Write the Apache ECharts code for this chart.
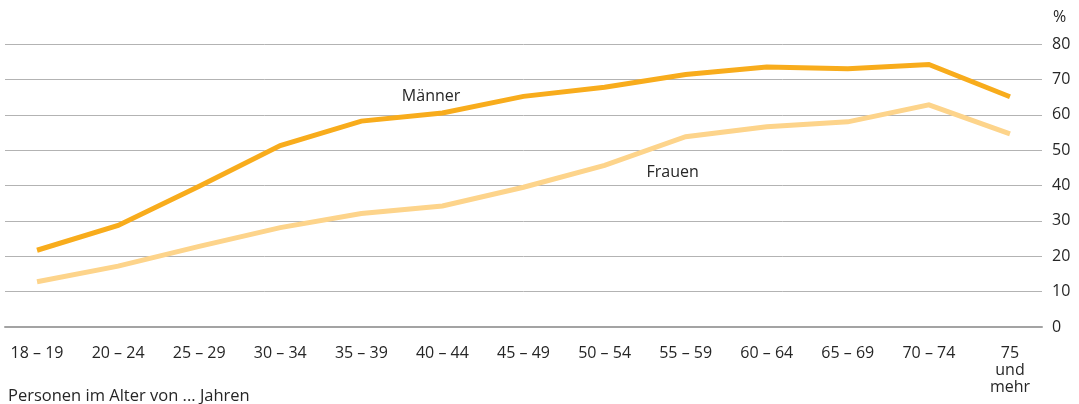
<!DOCTYPE html>
<html>
<head>
<meta charset="utf-8">
<script src="https://cdn.jsdelivr.net/npm/echarts@6/dist/echarts.min.js"></script>
<style>
  html, body { margin: 0; padding: 0; background: #fff; }
  #chart { width: 1079px; height: 404px; }
</style>
</head>
<body>
<div id="chart"></div>
<script>
// Age groups (x axis)
const categories = ['18 – 19', '20 – 24', '25 – 29', '30 – 34', '35 – 39', '40 – 44', '45 – 49',
  '50 – 54', '55 – 59', '60 – 64', '65 – 69', '70 – 74', '75\nund\nmehr'];
// Shares in percent
const maenner = [21.7, 28.7, 39.8, 51.3, 58.2, 60.5, 65.2, 67.8, 71.4, 73.5, 73.0, 74.2, 65.1];
const frauen  = [12.8, 17.2, 22.8, 28.1, 32.1, 34.2, 39.5, 45.7, 53.8, 56.6, 58.0, 62.8, 54.6];
const yTicks = [0, 10, 20, 30, 40, 50, 60, 70, 80];

const FONT = '"Open Sans", "Noto Sans", sans-serif';
const TEXT = '#262626';
const FS = 16;

const toPairs = arr => arr.map((v, i) => [i, v]);
const idx = categories.map((_, i) => i);

const chart = echarts.init(document.getElementById('chart'), null, { renderer: 'canvas' });
chart.setOption({
  animation: false,
  textStyle: { fontFamily: FONT },
  grid: { left: 5, right: 37, top: 44, bottom: 77, containLabel: false },
  xAxis: {
    type: 'value',
    min: -0.395,
    max: 12.395,
    splitLine: { show: false },
    axisTick: { show: false },
    axisLine: { show: true, onZero: false, lineStyle: { color: '#a3a3a3', width: 2 } },
    axisLabel: {
      customValues: idx,
      formatter: v => categories[Math.round(v)] || '',
      color: TEXT,
      fontSize: FS,
      fontFamily: FONT,
      lineHeight: 17,
      margin: 18,
      verticalAlign: 'top'
    }
  },
  yAxis: {
    type: 'value',
    position: 'right',
    min: yTicks[0],
    max: yTicks[yTicks.length - 1],
    interval: 10,
    axisLine: { show: false },
    axisTick: { show: false },
    splitLine: { lineStyle: { color: '#b3b3b3', width: 1 } },
    axisLabel: {
      color: TEXT, fontSize: FS, fontFamily: FONT, margin: 10,
      customValues: yTicks
    }
  },
  graphic: [
    { type: 'text', left: 1053, top: 9, style: { text: '%', fill: TEXT, font: FS + 'px ' + FONT } },
    { type: 'text', left: 8, top: 388, style: { text: 'Personen im Alter von ... Jahren', fill: TEXT, font: '16.5px ' + FONT } }
  ],
  series: [
    {
      name: 'Frauen',
      type: 'line',
      data: toPairs(frauen),
      showSymbol: false,
      symbol: 'none',
      lineStyle: { color: '#fdd48b', width: 5, join: 'miter' },
      markPoint: {
        symbol: 'circle', symbolSize: 0,
        label: { show: true, formatter: 'Frauen', color: TEXT, fontSize: FS, fontFamily: FONT, position: 'inside' },
        data: [{ coord: [7.84, 43.8] }]
      }
    },
    {
      name: 'Männer',
      type: 'line',
      data: toPairs(maenner),
      showSymbol: false,
      symbol: 'none',
      lineStyle: { color: '#f8ac1c', width: 5, join: 'miter' },
      markPoint: {
        symbol: 'circle', symbolSize: 0,
        label: { show: true, formatter: 'Männer', color: TEXT, fontSize: FS, fontFamily: FONT, position: 'inside' },
        data: [{ coord: [4.86, 65.3] }]
      }
    }
  ]
});
</script>
</body>
</html>
